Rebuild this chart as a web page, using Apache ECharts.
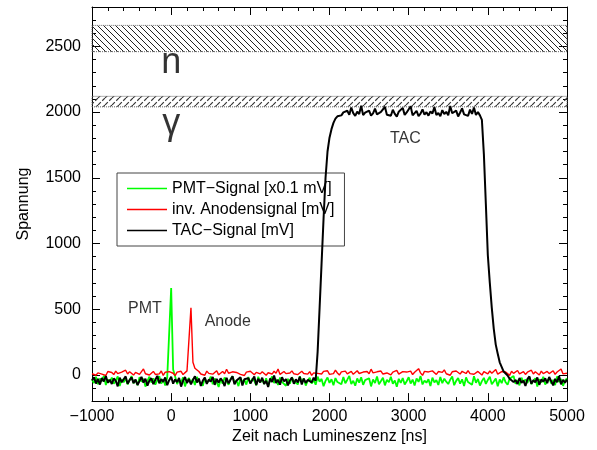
<!DOCTYPE html>
<html><head><meta charset="utf-8">
<script src="https://cdn.jsdelivr.net/npm/echarts@6/dist/echarts.min.js"></script>
<style>html,body{margin:0;padding:0;background:#fff}#c{width:597px;height:450px}</style>
</head><body><div id="c"></div>
<script>
const time = [
-1000,-975,-950,-925,-900,-875,-850,-825,-800,-775,
-750,-725,-700,-675,-650,-625,-600,-575,-550,-525,
-500,-475,-450,-425,-400,-375,-350,-325,-300,-275,
-250,-225,-200,-175,-150,-125,-100,-75,-50,-25,
0,25,50,75,100,125,150,175,200,225,
250,275,300,325,350,375,400,425,450,475,
500,525,550,575,600,625,650,675,700,725,
750,775,800,825,850,875,900,925,950,975,
1000,1025,1050,1075,1100,1125,1150,1175,1200,1225,
1250,1275,1300,1325,1350,1375,1400,1425,1450,1475,
1500,1525,1550,1575,1600,1625,1650,1675,1700,1725,
1750,1775,1800,1825,1850,1875,1900,1925,1950,1975,
2000,2025,2050,2075,2100,2125,2150,2175,2200,2225,
2250,2275,2300,2325,2350,2375,2400,2425,2450,2475,
2500,2525,2550,2575,2600,2625,2650,2675,2700,2725,
2750,2775,2800,2825,2850,2875,2900,2925,2950,2975,
3000,3025,3050,3075,3100,3125,3150,3175,3200,3225,
3250,3275,3300,3325,3350,3375,3400,3425,3450,3475,
3500,3525,3550,3575,3600,3625,3650,3675,3700,3725,
3750,3775,3800,3825,3850,3875,3900,3925,3950,3975,
4000,4025,4050,4075,4100,4125,4150,4175,4200,4225,
4250,4275,4300,4325,4350,4375,4400,4425,4450,4475,
4500,4525,4550,4575,4600,4625,4650,4675,4700,4725,
4750,4775,4800,4825,4850,4875,4900,4925,4950,4975,
5000];

const pmtSignal = [
-38,-62,-15,-71,-29,-48,-8,-77,-35,-55,
-21,-68,-44,-12,-85,-33,-57,-26,-73,-41,
-9,-64,-37,-79,-18,-52,-30,-90,-46,-14,
-59,-27,-75,-40,-11,-66,-34,-81,-23,-30,
660,40,-12,-70,-36,-58,-19,-88,-42,-25,
-63,-31,-78,-16,-50,-39,-83,-22,-61,-45,
-13,-72,-28,-56,-92,-35,-67,-20,-48,-76,
-32,-10,-60,-43,-86,-24,-54,-38,-74,-17,
-65,-29,-47,-80,-15,-57,-36,-70,-26,-89,
-41,-12,-62,-33,-77,-21,-53,-45,-84,-30,
-68,-18,-49,-37,-73,-11,-58,-27,-82,-44,
-23,-66,-39,-75,-14,-52,-31,-87,-46,-20,
-61,-34,-79,-25,-55,-42,-72,-16,-64,-37,
-8,-70,-45,-83,-28,-59,-19,-76,-40,-53,
-26,-88,-35,-63,-12,-71,-47,-22,-80,-38,
-57,-15,-68,-43,-91,-30,-62,-24,-74,-49,
-18,-66,-36,-81,-27,-54,-10,-73,-44,-60,
-33,-85,-21,-58,-41,-77,-16,-64,-29,-52,
-70,-37,-13,-79,-46,-25,-67,-34,-86,-20,
-55,-42,-75,-11,-61,-31,-82,-48,-23,-69,
-39,-14,-72,-50,-28,-87,-35,-63,-18,-57,
-76,-30,-45,-9,-68,-40,-80,-22,-53,-36,
-62,-17,-71,-44,-26,-89,-33,-58,-15,-74,
-47,-24,-66,-38,-78,-12,-55,-31,-84,-43,
-28];

const anodeSignal = [
8,22,-3,15,30,5,12,-5,25,10,
18,2,28,9,-4,20,14,35,6,24,
11,-2,19,27,4,16,45,8,21,-1,
13,26,3,17,7,29,-4,20,10,24,
18,12,-6,21,9,27,2,16,30,15,
510,95,50,38,25,6,19,-3,28,11,
22,5,17,31,0,14,26,8,42,12,
-2,23,10,18,29,4,15,-5,21,9,
27,13,1,19,33,7,24,11,-3,16,
20,6,28,12,44,3,18,25,9,-1,
14,30,8,22,2,17,27,10,19,5,
24,-4,15,29,11,20,6,26,13,31,
3,18,9,36,14,-2,22,12,28,7,
19,26,4,16,31,10,-3,21,13,25,
8,43,15,1,23,11,29,6,18,14,
27,-1,20,12,34,5,17,24,9,21,
13,28,2,19,10,47,15,-4,26,11,
22,7,30,16,3,25,12,19,38,8,
17,-3,23,11,29,14,6,27,18,10,
32,9,21,4,16,26,13,-2,24,15,
7,29,12,20,41,5,18,25,10,22,
14,-4,27,11,19,33,8,16,24,3,
20,12,35,6,23,15,-1,28,10,18,
26,9,17,31,4,21,13,44,7,19,
12];

const tacSignal = [
-42,-18,-66,-31,-74,-25,-50,-9,-61,-37,
-70,-28,-45,-88,-22,-57,-34,-12,-68,-40,
-19,-63,-36,-77,-48,-15,-59,-30,-82,-44,
-26,-71,-38,-8,-64,-33,-53,-20,-79,-41,
-14,-67,-35,-56,-24,-90,-46,-17,-62,-32,
-73,-39,-11,-58,-29,-84,-43,-21,-69,-36,
-52,-16,-76,-31,-60,-27,-47,-86,-23,-65,
-37,-10,-72,-44,-55,-19,-81,-34,-49,-25,
-66,-40,-13,-78,-30,-58,-22,-70,-45,-92,
-28,-54,-6,-63,-38,-75,-18,-50,-33,-80,
-43,-21,-68,-35,-57,-15,-74,-29,-61,-39,
-30,-58,-22,-45,175,510,850,1190,1500,1700,
1805,1870,1918,1950,1968,1982,1975,1998,1986,2010,
1979,2035,1992,1971,2004,1985,2048,1977,1996,1988,
2012,1974,1990,2026,1983,1969,2001,1987,2040,1980,
1995,1972,2018,1986,1966,2003,1990,2032,1978,1997,
1984,2044,1975,1992,2009,1970,1988,2021,1981,1999,
1973,2006,1989,2038,1977,1994,1968,2015,1985,2002,
1976,2046,1991,1980,2011,1967,1997,2028,1983,1993,
1971,2019,1986,2034,1978,2000,1975,1940,1680,1300,
910,700,510,350,230,160,95,80,25,30,
-5,-30,-18,-55,-38,-70,-24,-61,-44,-85,
-33,-12,-67,-41,-58,-20,-76,-36,-52,-27,
-64,-17,-48,-80,-31,-56,-9,-72,-39,-60,
-35];

const seriesNames = ['PMT\u2212Signal [x0.1 mV]', 'inv. Anodensignal [mV]', 'TAC\u2212Signal [mV]'];
const seriesColors = ['#00ff00', '#ff0000', '#000000'];
const xRange = [-1000, 5000];
const xStep = 1000;
const yRange = [-200, 2800];
const yTicks = [0, 500, 1000, 1500, 2000, 2500];
const nBand = [2460, 2660];
const gammaBand = [2040, 2120];
const annotations = [
  {name: 'n', t: 0, v: 2370, size: 36},
  {name: '\u03b3', t: 0, v: 1905, size: 36},
  {name: 'TAC', t: 2958, v: 1797, size: 16},
  {name: 'PMT', t: -331, v: 501, size: 16},
  {name: 'Anode', t: 715, v: 403, size: 16}
];

const FONT = "'Liberation Sans', Arial, Helvetica, sans-serif";

function hatch(size, dir, lw, dash, color) {
  const c = document.createElement('canvas');
  c.width = c.height = size;
  const g = c.getContext('2d');
  g.strokeStyle = color; g.lineWidth = lw;
  if (dash) g.setLineDash(dash);
  for (const o of [-size, 0, size]) {
    g.beginPath();
    if (dir > 0) { g.moveTo(o, size); g.lineTo(o + size, 0); }
    else { g.moveTo(o, 0); g.lineTo(o + size, size); }
    g.stroke();
  }
  return c;
}
const patN = hatch(6, -1, 1, null, '#222');
const patG = hatch(7, 1, 1.2, [4, 2], '#333');

const tickStyle = {color: '#000', width: 1};
function xAx(pos, showLabel) {
  return {
    type: 'value', min: xRange[0], max: xRange[1], interval: xStep, position: pos,
    axisLine: {show: true, onZero: false, lineStyle: tickStyle},
    axisTick: {show: true, inside: true, length: 8, lineStyle: tickStyle},
    minorTick: {show: true, splitNumber: 5, length: 4, lineStyle: tickStyle},
    splitLine: {show: false}, minorSplitLine: {show: false},
    axisLabel: showLabel ? {show: true, margin: 7, fontSize: 16, fontFamily: FONT, color: '#000',
      formatter: v => String(v).replace('-', '\u2212')} : {show: false},
    name: showLabel ? 'Zeit nach Lumineszenz [ns]' : '', nameLocation: 'middle', nameGap: 25,
    nameTextStyle: {fontSize: 16, fontFamily: FONT, color: '#000'}
  };
}
function yAxMajor(pos, showLabel) {
  return {
    type: 'value', min: yRange[0], max: yRange[1], position: pos,
    axisLine: {show: true, onZero: false, lineStyle: tickStyle},
    axisTick: {show: true, inside: true, length: 8, lineStyle: tickStyle, customValues: yTicks},
    splitLine: {show: false},
    axisLabel: showLabel ? {show: true, margin: 11, fontSize: 16, fontFamily: FONT, color: '#000',
      customValues: yTicks, formatter: v => String(v)} : {show: false},
    name: showLabel ? 'Spannung' : '', nameLocation: 'middle', nameGap: 60,
    nameTextStyle: {fontSize: 16, fontFamily: FONT, color: '#000'}
  };
}
function yAxMinor(pos) {
  return {
    type: 'value', min: yRange[0], max: yRange[1], interval: 100, position: pos,
    axisLine: {show: false, onZero: false},
    axisTick: {show: true, inside: true, length: 4, lineStyle: tickStyle},
    splitLine: {show: false}, axisLabel: {show: false}
  };
}

const signals = [pmtSignal, anodeSignal, tacSignal];
const lineWidths = [1.8, 1.4, 2.0];
const bandStyle = {borderColor: '#666', borderType: 'dotted', borderWidth: 1};

const chart = echarts.init(document.getElementById('c'));
chart.setOption({
  animation: false,
  textStyle: {fontFamily: FONT},
  grid: {left: 92, right: 30, top: 7, bottom: 48, containLabel: false},
  xAxis: [xAx('bottom', true), xAx('top', false)],
  yAxis: [yAxMajor('left', true), yAxMinor('left'), yAxMajor('right', false), yAxMinor('right')],
  legend: {
    data: seriesNames.map((n, k) => ({name: n, itemStyle: {color: seriesColors[k]}})),
    orient: 'vertical', left: 117, top: 173,
    backgroundColor: '#fff', borderColor: '#444', borderWidth: 1,
    padding: [5, 10, 5, 10], itemGap: 0, itemWidth: 40, itemHeight: 1.5, itemTextGap: 10,
    icon: 'rect',
    textStyle: {fontSize: 16, fontFamily: FONT, color: '#000', lineHeight: 21}
  },
  series: [
    {
      type: 'line', name: 'bands', data: [], silent: true,
      markArea: {
        silent: true,
        label: {show: false},
        data: [
          [{yAxis: nBand[0], itemStyle: Object.assign({color: {image: patN, repeat: 'repeat'}}, bandStyle)}, {yAxis: nBand[1]}],
          [{yAxis: gammaBand[0], itemStyle: Object.assign({color: {image: patG, repeat: 'repeat'}}, bandStyle)}, {yAxis: gammaBand[1]}]
        ]
      }
    },
    ...signals.map((arr, k) => ({
      type: 'line', name: seriesNames[k], xAxisIndex: 0, yAxisIndex: 0,
      data: time.map((t, i) => [t, arr[i]]),
      symbol: 'none', showSymbol: false,
      lineStyle: {color: seriesColors[k], width: lineWidths[k]},
      itemStyle: {color: seriesColors[k]},
      z: 2 + k
    })),
    {
      type: 'scatter', name: 'labels', silent: true, symbolSize: 1,
      itemStyle: {color: 'rgba(0,0,0,0)'},
      data: annotations.map(a => ({value: [a.t, a.v], name: a.name, label: {fontSize: a.size}})),
      label: {show: true, position: 'inside', formatter: '{b}', color: '#000', fontFamily: FONT},
      z: 10
    }
  ]
});
</script></body></html>
